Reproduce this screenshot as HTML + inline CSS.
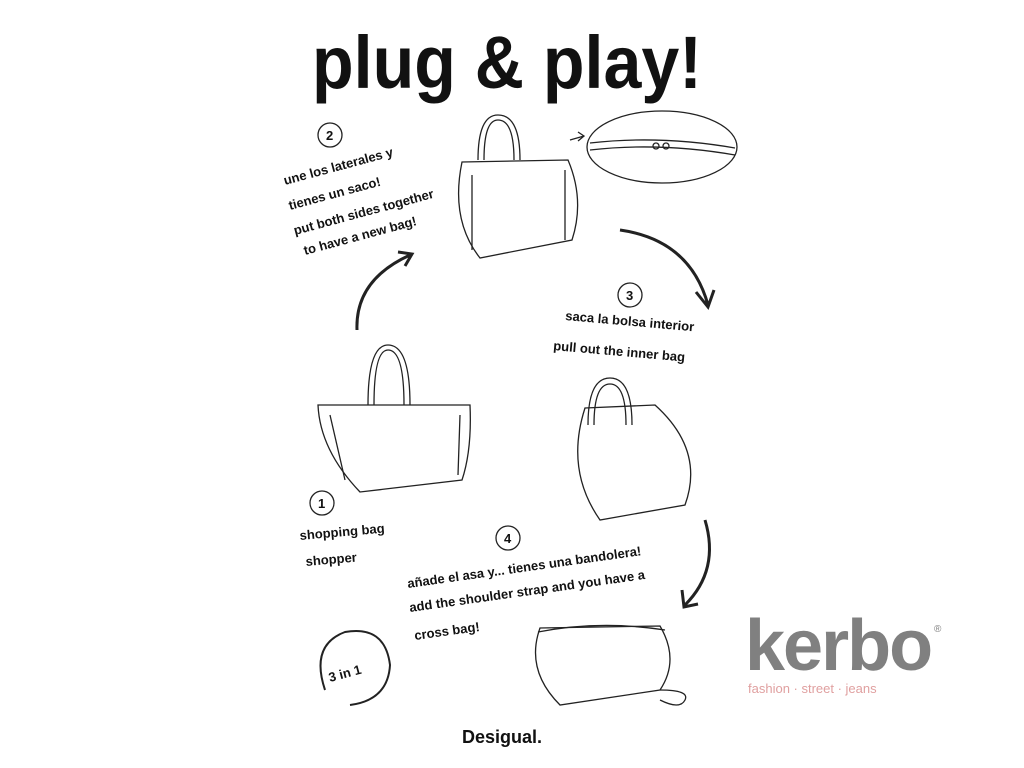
<!DOCTYPE html>
<html><head><meta charset="utf-8"><style>
html,body{margin:0;padding:0;background:#fff;width:1024px;height:768px;overflow:hidden}
svg{display:block}
.h{font-family:"Liberation Sans",sans-serif;font-weight:bold;fill:#111;font-size:13px}
</style></head><body>
<svg width="1024" height="768" viewBox="0 0 1024 768" xmlns="http://www.w3.org/2000/svg">
<rect width="1024" height="768" fill="#fff"/>
<text x="312" y="88" font-family="Liberation Sans,sans-serif" font-weight="bold" font-size="74" fill="#111" textLength="390" lengthAdjust="spacingAndGlyphs">plug &amp; play!</text>
<g fill="none" stroke="#222" stroke-width="1.3">
<path d="M478 160 Q478 115 498 115 Q520 115 520 160"/><path d="M484 160 Q484 120 498 120 Q514 120 514 160"/>
<path d="M462 162 L568 160 Q585 200 572 240 L480 258 Q450 220 462 162Z"/>
<path d="M472 175 L472 250 M565 170 L565 240"/>
<ellipse cx="662" cy="147" rx="75" ry="36"/>
<path d="M590 143 Q660 135 735 148 M590 150 Q660 142 735 155"/>
<circle cx="656" cy="146" r="3"/><circle cx="666" cy="146" r="3"/>
<path d="M570 140 L584 136 M578 132 L584 136 L578 141"/>
<path d="M368 405 Q368 345 388 345 Q410 345 410 405"/><path d="M374 405 Q374 350 388 350 Q404 350 404 405"/>
<path d="M318 405 L470 405 Q472 450 462 480 L360 492 Q320 450 318 405Z"/>
<path d="M330 415 L345 480 M460 415 L458 475"/>
<path d="M588 425 Q588 378 610 378 Q632 378 632 425"/><path d="M594 425 Q594 384 610 384 Q626 384 626 425"/>
<path d="M585 408 L655 405 Q705 450 685 505 L600 520 Q565 470 585 408Z"/>
<path d="M538 632 Q600 620 665 630"/>
<path d="M540 628 L660 626 Q680 660 660 690 L560 705 Q525 670 540 628Z"/>
<path d="M660 690 Q690 690 685 700 Q680 710 660 700"/>
<path stroke-width="3" d="M357 330 Q355 280 410 255 M398 252 L412 254 L405 266"/>
<path stroke-width="3" d="M620 230 Q690 240 708 305 M696 292 L708 307 L714 290"/>
<path stroke-width="3" d="M705 520 Q720 570 685 605 M682 590 L684 607 L698 604"/>
<circle cx="330" cy="135" r="12"/><circle cx="630" cy="295" r="12"/><circle cx="322" cy="503" r="12"/><circle cx="508" cy="538" r="12"/>
<path stroke-width="2" d="M325 690 Q310 645 345 632 Q385 625 390 665 Q388 700 350 705"/>
</g>
<g class="h">
<text x="326" y="140">2</text><text x="626" y="300">3</text><text x="318" y="508">1</text><text x="504" y="543">4</text>
<text x="285" y="185" transform="rotate(-15 285 185)">une los laterales y</text>
<text x="290" y="210" transform="rotate(-15 290 210)">tienes un saco!</text>
<text x="295" y="235" transform="rotate(-15 295 235)">put both sides together</text>
<text x="305" y="255" transform="rotate(-15 305 255)">to have a new bag!</text>
<text x="565" y="320" transform="rotate(5 565 320)">saca la bolsa interior</text>
<text x="553" y="350" transform="rotate(5 553 350)">pull out the inner bag</text>
<text x="300" y="540" transform="rotate(-5 300 540)">shopping bag</text>
<text x="306" y="566" transform="rotate(-5 306 566)">shopper</text>
<text x="408" y="588" transform="rotate(-8 408 588)">añade el asa y... tienes una bandolera!</text>
<text x="410" y="612" transform="rotate(-8 410 612)">add the shoulder strap and you have a</text>
<text x="415" y="640" transform="rotate(-8 415 640)">cross bag!</text>
<text x="330" y="682" transform="rotate(-15 330 682)">3 in 1</text>
<text x="462" y="743" font-size="18">Desigual.</text>
</g>
<text x="745" y="670" font-family="Liberation Sans,sans-serif" font-weight="bold" font-size="72" fill="#808080" letter-spacing="-2">kerbo</text>
<text x="934" y="632" font-family="Liberation Sans,sans-serif" font-size="10" fill="#808080">®</text>
<text x="748" y="693" font-family="Liberation Sans,sans-serif" font-size="13" fill="#e0a0a0">fashion  ·  street  ·  jeans</text>
</svg>
</body></html>
